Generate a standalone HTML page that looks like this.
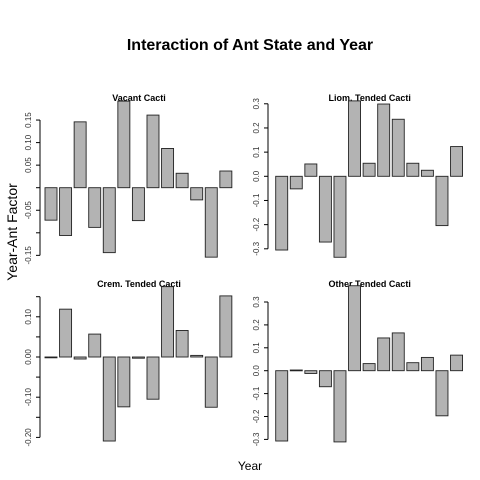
<!DOCTYPE html>
<html><head><meta charset="utf-8"><style>
body{margin:0;background:#fff}
svg{display:block;font-family:"Liberation Sans",sans-serif}
</style></head><body>
<svg id="c" width="480" height="480" viewBox="0 0 480 480">
<text x="250" y="50" text-anchor="middle" font-size="16" font-weight="bold">Interaction of Ant State and Year</text>
<text x="250" y="470" text-anchor="middle" font-size="12">Year</text>
<text transform="translate(17,232) rotate(-90)" text-anchor="middle" font-size="14">Year-Ant Factor</text>
</svg>
<script>
const vacantValues=[-0.072,-0.106,0.146,-0.088,-0.144,0.192,-0.073,0.161,0.087,0.032,-0.027,-0.154,0.037];
const liomValues=[-0.305,-0.052,0.051,-0.272,-0.335,0.312,0.054,0.299,0.236,0.054,0.025,-0.204,0.123];
const cremValues=[-0.002,0.119,-0.005,0.057,-0.209,-0.124,-0.003,-0.105,0.175,0.066,0.004,-0.125,0.152];
const otherValues=[-0.307,0.003,-0.012,-0.07,-0.311,0.371,0.031,0.143,0.165,0.035,0.058,-0.197,0.068];
const vacantTicks=[-0.15,-0.10,-0.05,0.00,0.05,0.10,0.15];
const vacantLabels=["-0.15","","-0.05","","0.05","0.10","0.15"];
const liomTicks=[-0.3,-0.2,-0.1,0.0,0.1,0.2,0.3];
const liomLabels=["-0.3","-0.2","-0.1","0.0","0.1","0.2","0.3"];
const cremTicks=[-0.20,-0.15,-0.10,-0.05,0.00,0.05,0.10,0.15];
const cremLabels=["-0.20","","-0.10","","0.00","","0.10",""];
const panelTitles=["Vacant Cacti","Liom. Tended Cacti","Crem. Tended Cacti","Other Tended Cacti"];

const NS="http://www.w3.org/2000/svg";
const svg=document.getElementById('c');
function mk(t,a){const e=document.createElementNS(NS,t);for(const k in a)e.setAttribute(k,a[k]);svg.appendChild(e);return e;}
const panels=[
 {vals:vacantValues,ticks:vacantTicks,labels:vacantLabels,ax:40,x0:45,zeroY:187.7,scale:451,ty:101,slug:'vacant'},
 {vals:liomValues,ticks:liomTicks,labels:liomLabels,ax:268,x0:275.7,zeroY:176.3,scale:241.7,ty:101,slug:'liom'},
 {vals:cremValues,ticks:cremTicks,labels:cremLabels,ax:40,x0:45,zeroY:357,scale:402,ty:287,slug:'crem'},
 {vals:otherValues,ticks:liomTicks,labels:liomLabels,ax:268,x0:275.7,zeroY:370.7,scale:229,ty:287,slug:'other'}
];
panels.forEach((p,pi)=>{
 const y=v=>p.zeroY-v*p.scale;
 const t=mk('text',{x:p.x0+94,y:p.ty,'text-anchor':'middle','font-size':9,'font-weight':'bold'});
 t.textContent=panelTitles[pi];
 
 
 const ymin=y(p.ticks[0]),ymax=y(p.ticks[p.ticks.length-1]);
 const axl=mk('line',{x1:p.ax,x2:p.ax,y1:ymin,y2:ymax,stroke:'#000','stroke-width':1});
 
 
 p.ticks.forEach((tv,i)=>{
  const ty=y(tv);
  mk('line',{x1:p.ax-4,x2:p.ax,y1:ty,y2:ty,stroke:'#000','stroke-width':1});
  if(p.labels[i]){
   const l=mk('text',{transform:`translate(${p.ax-9},${ty}) rotate(-90)`,'text-anchor':'middle','font-size':8,fill:'#333'});
   l.textContent=p.labels[i];
   
   
  }
 });
 p.vals.forEach((v,i)=>{
  const x=p.x0+i*14.57;
  const y0=y(0),y1=y(v);
  const r=mk('rect',{x:x,y:Math.min(y0,y1),width:12,height:Math.max(0.8,Math.abs(y1-y0)),fill:'#b3b3b3',stroke:'#222','stroke-width':0.9});
  
  
 });
});
</script>
</body></html>
